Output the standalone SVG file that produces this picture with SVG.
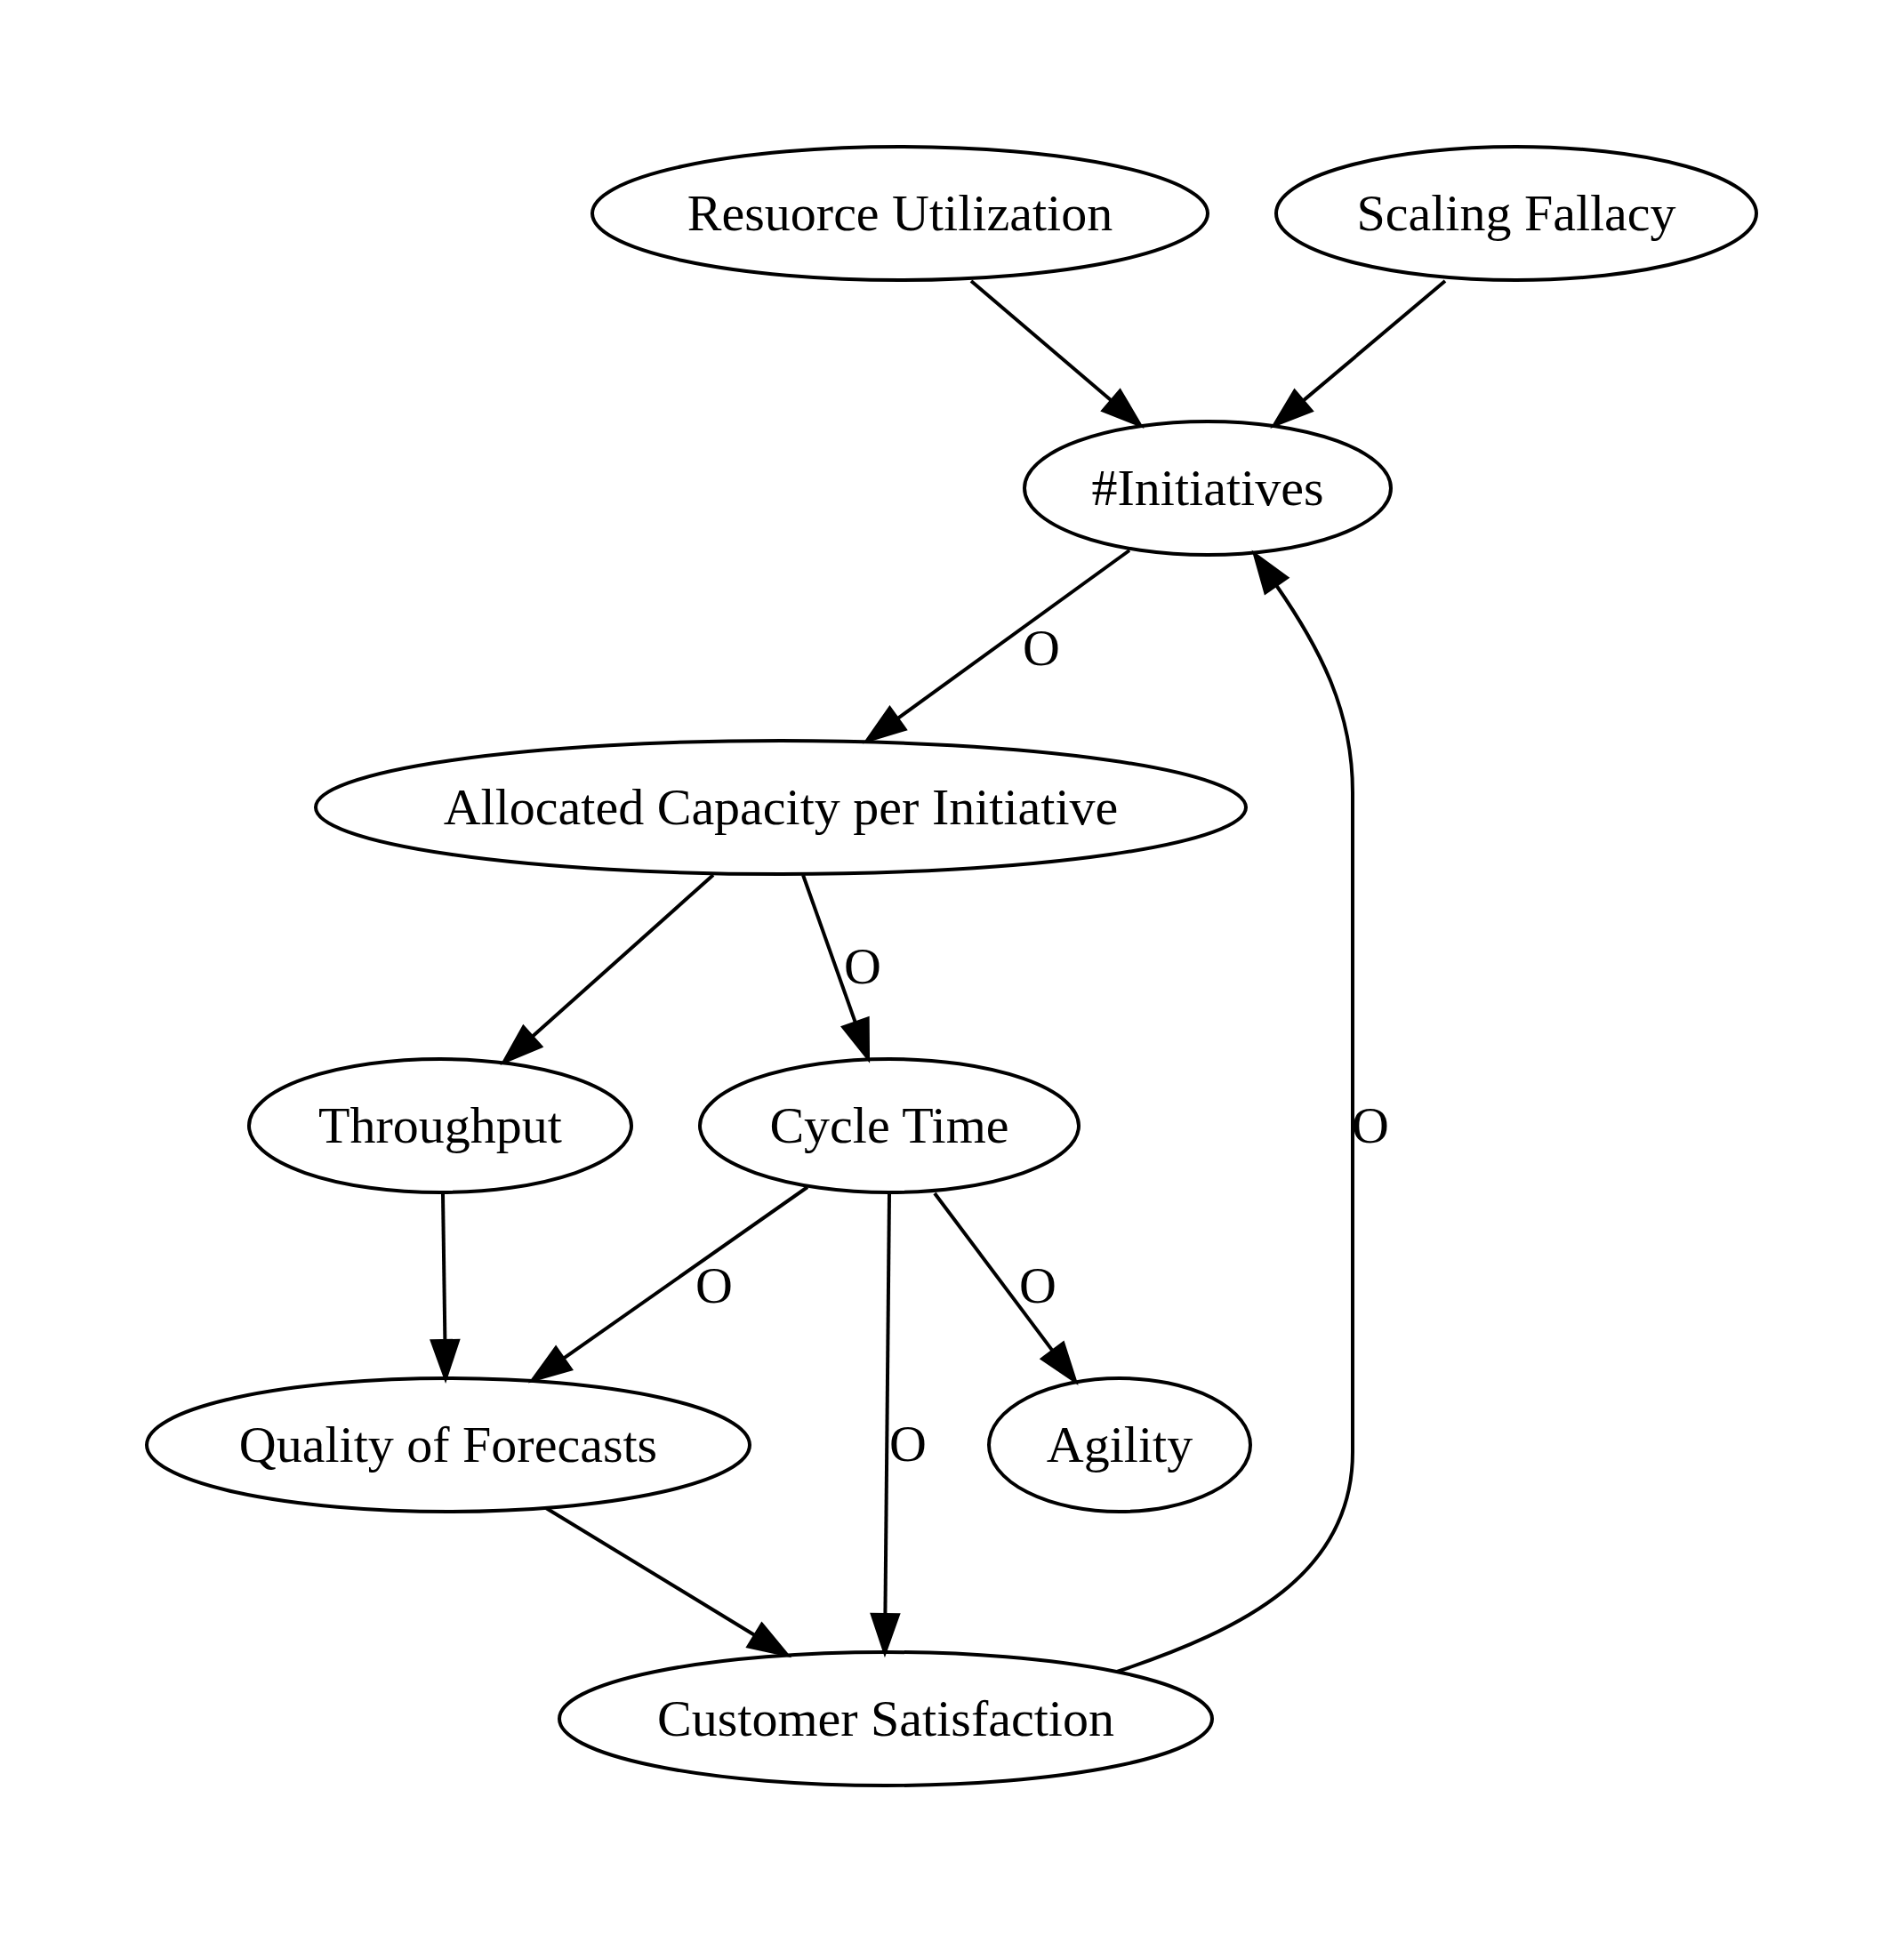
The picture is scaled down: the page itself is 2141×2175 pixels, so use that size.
<svg xmlns="http://www.w3.org/2000/svg" width="2141" height="2175" viewBox="0 0 2141 2175">
<style>
.node ellipse{fill:none;stroke:#000;stroke-width:4}
text{font-family:"Liberation Serif","Times New Roman",serif;font-size:58px;fill:#000;text-anchor:middle}
.edges path{fill:none;stroke:#000;stroke-width:4;marker-end:url(#arrow)}
</style>
<defs>
<marker id="arrow" markerUnits="userSpaceOnUse" viewBox="-2 -2 46 33" markerWidth="46" markerHeight="33" refX="0" refY="14.5" orient="auto" overflow="visible">
<path d="M0,0 L42,14.5 L0,29 Z" fill="#000" stroke="#000" stroke-width="4"/>
</marker>
</defs>
<rect width="2141" height="2175" fill="#fff"/>
<g id="edges" class="edges">
<path d="M1092,316 L1250,450.7"/>
<path d="M1625,316 L1465.1,450.9"/>
<path d="M1270,619 L1009,808.3"/>
<path d="M802,984 L598.3,1166"/>
<path d="M903,984 L962,1150.4"/>
<path d="M498,1343 L500.4,1508"/>
<path d="M908,1335 L633.4,1527.9"/>
<path d="M1000,1343 L995.4,1816"/>
<path d="M1051,1342 L1183.8,1519.4"/>
<path d="M614,1696 L849.1,1839.2"/>
<path d="M1256,1880 C1400,1832 1521,1770 1521,1633 L1521,891 C1521,800 1485,730 1435,658"/>
<text x="1171" y="748">O</text>
<text x="970" y="1106">O</text>
<text x="803" y="1465">O</text>
<text x="1167" y="1465">O</text>
<text x="1021" y="1643">O</text>
<text x="1541" y="1285">O</text>
</g>
<g id="resource_utilization" class="node"><ellipse cx="1012" cy="240" rx="346" ry="75"/><text x="1012" y="259">Resuorce Utilization</text></g>
<g id="scaling_fallacy" class="node"><ellipse cx="1705" cy="240" rx="270" ry="75"/><text x="1705" y="259">Scaling Fallacy</text></g>
<g id="initiatives" class="node"><ellipse cx="1358" cy="549" rx="206" ry="75"/><text x="1358" y="568">#Initiatives</text></g>
<g id="allocated_capacity" class="node"><ellipse cx="878" cy="908" rx="523" ry="75"/><text x="878" y="927">Allocated Capacity per Initiative</text></g>
<g id="throughput" class="node"><ellipse cx="495" cy="1266" rx="215" ry="75"/><text x="495" y="1285">Throughput</text></g>
<g id="cycle_time" class="node"><ellipse cx="1000" cy="1266" rx="213" ry="75"/><text x="1000" y="1285">Cycle Time</text></g>
<g id="quality_of_forecasts" class="node"><ellipse cx="504" cy="1625" rx="339" ry="75"/><text x="504" y="1644">Quality of Forecasts</text></g>
<g id="agility" class="node"><ellipse cx="1259" cy="1625" rx="147" ry="75"/><text x="1259" y="1644">Agility</text></g>
<g id="customer_satisfaction" class="node"><ellipse cx="996" cy="1933" rx="367" ry="75"/><text x="996" y="1952">Customer Satisfaction</text></g>
</svg>
